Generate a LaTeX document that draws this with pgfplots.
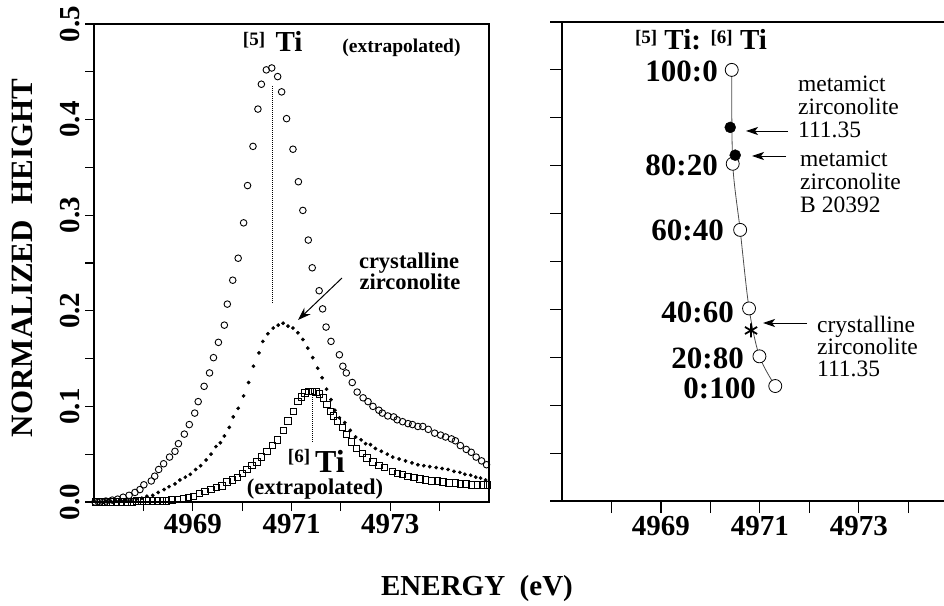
\documentclass[border=0pt]{standalone}
\usepackage{fontspec}
\setmainfont{Liberation Serif}
\usepackage{pgfplots}
\pgfplotsset{compat=1.18}
\usetikzlibrary{arrows.meta}
\newcommand\fs[1]{\fontsize{#1}{#1}\selectfont}
\begin{document}
\begin{tikzpicture}[x=1pt,y=1pt]
\useasboundingbox (0,0) rectangle (944,605);
\begin{axis}[
 at={(94pt,103pt)}, anchor=south west, scale only axis, width=395pt, height=478pt,
 xmin=4967, xmax=4975, ymin=0, ymax=0.5,
 xtick={4968,4969,4970,4971,4972,4973,4974}, xticklabels={,4969,,4971,,4973,},
 ytick={0,0.05,0.1,0.15,0.2,0.25,0.3,0.35,0.4,0.45,0.5},
 yticklabels={0.0,,0.1,,0.2,,0.3,,0.4,,0.5},
 tick pos=left, tick align=outside, major tick length=9pt,
 axis line style={line width=1.2pt}, tick style={line width=1.1pt, black},
 ticklabel style={font=\fs{29}\bfseries},
 yticklabel style={rotate=90, anchor=south, inner sep=5pt},
 clip=false,
]
\addplot[densely dotted, line width=1pt] coordinates {(4970.61,0.435) (4970.61,0.208)};
\addplot[densely dotted, line width=1pt] coordinates {(4971.43,0.114) (4971.43,0.063)};
% [6]Ti squares
\addplot[only marks, mark=square, mark size=3.2pt, mark options={line width=0.8pt, fill=white}] coordinates {
(4967.04,0.000) (4967.14,0.000) (4967.24,0.000) (4967.34,0.000) (4967.45,0.000) (4967.55,0.000)
(4967.67,0.000) (4967.77,0.000) (4967.87,0.001) (4967.97,0.001) (4968.07,0.001) (4968.18,0.001)
(4968.28,0.001) (4968.38,0.001) (4968.47,0.001) (4968.58,0.002) (4968.69,0.003) (4968.81,0.004)
(4968.91,0.005) (4969.01,0.006) (4969.14,0.009) (4969.25,0.011) (4969.37,0.013) (4969.48,0.015)
(4969.59,0.017) (4969.69,0.021) (4969.80,0.023) (4969.90,0.026) (4970.00,0.030) (4970.10,0.034)
(4970.20,0.038) (4970.30,0.042) (4970.39,0.047) (4970.50,0.053) (4970.61,0.059) (4970.71,0.065)
(4970.83,0.075) (4970.93,0.085) (4971.04,0.095) (4971.13,0.105) (4971.20,0.110) (4971.27,0.114)
(4971.34,0.116) (4971.42,0.116) (4971.50,0.115) (4971.57,0.113) (4971.64,0.109) (4971.72,0.102)
(4971.79,0.095) (4971.85,0.090) (4971.93,0.085) (4972.03,0.078) (4972.11,0.071) (4972.21,0.063)
(4972.31,0.056) (4972.43,0.051) (4972.53,0.046) (4972.65,0.042) (4972.77,0.038) (4972.88,0.036)
(4973.04,0.032) (4973.14,0.030) (4973.24,0.029) (4973.36,0.027) (4973.48,0.026) (4973.60,0.024)
(4973.71,0.023) (4973.84,0.022) (4973.95,0.022) (4974.07,0.021) (4974.19,0.020) (4974.32,0.020)
(4974.42,0.019) (4974.53,0.019) (4974.64,0.018) (4974.76,0.018) (4974.88,0.018) (4974.97,0.018)};
% crystalline zirconolite dots
\addplot[only marks, mark=*, mark size=1.7pt] coordinates {
(4967.04,0.000) (4967.14,0.000) (4967.24,0.001) (4967.34,0.001) (4967.45,0.001) (4967.55,0.001)
(4967.65,0.002) (4967.75,0.002) (4967.86,0.003) (4967.97,0.004) (4968.07,0.006) (4968.19,0.007)
(4968.30,0.010) (4968.42,0.013) (4968.52,0.016) (4968.64,0.019) (4968.74,0.023) (4968.85,0.026)
(4968.95,0.029) (4969.06,0.034) (4969.16,0.038) (4969.27,0.044) (4969.37,0.050) (4969.47,0.058)
(4969.56,0.062) (4969.64,0.069) (4969.74,0.078) (4969.82,0.089) (4969.92,0.098) (4970.03,0.111)
(4970.13,0.125) (4970.23,0.142) (4970.34,0.156) (4970.42,0.168) (4970.52,0.176) (4970.63,0.182)
(4970.73,0.185) (4970.83,0.187) (4970.93,0.184) (4971.03,0.182) (4971.13,0.177) (4971.23,0.170)
(4971.33,0.161) (4971.43,0.151) (4971.53,0.140) (4971.62,0.130) (4971.71,0.118) (4971.80,0.107)
(4971.88,0.096) (4971.97,0.088) (4972.08,0.083) (4972.19,0.075) (4972.30,0.068) (4972.41,0.065)
(4972.50,0.061) (4972.60,0.060) (4972.70,0.056) (4972.82,0.053) (4972.94,0.050) (4973.05,0.047)
(4973.18,0.045) (4973.31,0.043) (4973.44,0.041) (4973.56,0.039) (4973.68,0.038) (4973.80,0.037)
(4973.93,0.036) (4974.05,0.035) (4974.17,0.034) (4974.29,0.032) (4974.41,0.031) (4974.51,0.029)
(4974.63,0.028) (4974.73,0.026) (4974.83,0.025) (4974.93,0.023)};
% [5]Ti open circles
\addplot[only marks, mark=o, mark size=3.3pt, mark options={line width=0.9pt}] coordinates {
(4967.02,0.000) (4967.12,0.000) (4967.24,0.001) (4967.37,0.002) (4967.48,0.003) (4967.59,0.005)
(4967.71,0.007) (4967.83,0.010) (4967.93,0.013) (4968.01,0.018) (4968.16,0.022) (4968.23,0.027)
(4968.31,0.034) (4968.41,0.040) (4968.53,0.047) (4968.64,0.053) (4968.71,0.061) (4968.83,0.071)
(4968.93,0.081) (4969.04,0.093) (4969.11,0.105) (4969.23,0.121) (4969.34,0.135) (4969.42,0.151)
(4969.52,0.167) (4969.64,0.185) (4969.70,0.207) (4969.81,0.232) (4969.92,0.255) (4970.03,0.292)
(4970.11,0.331) (4970.22,0.372) (4970.32,0.411) (4970.39,0.437) (4970.49,0.452) (4970.60,0.454)
(4970.72,0.445) (4970.80,0.429) (4970.90,0.401) (4971.03,0.369) (4971.14,0.335) (4971.23,0.305)
(4971.34,0.274) (4971.42,0.245) (4971.56,0.221) (4971.63,0.202) (4971.70,0.183) (4971.80,0.168)
(4971.97,0.154) (4972.04,0.142) (4972.11,0.135) (4972.23,0.125) (4972.33,0.115) (4972.45,0.109)
(4972.55,0.105) (4972.65,0.100) (4972.77,0.096) (4972.84,0.093) (4972.95,0.090) (4973.07,0.089)
(4973.14,0.086) (4973.25,0.084) (4973.36,0.082) (4973.45,0.081) (4973.56,0.079) (4973.66,0.079)
(4973.77,0.076) (4973.90,0.072) (4974.02,0.070) (4974.12,0.068) (4974.24,0.066) (4974.32,0.064)
(4974.42,0.059) (4974.54,0.055) (4974.64,0.052) (4974.74,0.047) (4974.85,0.043) (4974.95,0.039)};
\end{axis}

\begin{axis}[
 at={(562pt,104pt)}, anchor=south west, scale only axis, width=382pt, height=479pt,
 xmin=4967, xmax=4974.72, ymin=0, ymax=0.5,
 axis x line=box, axis y line=left, axis line style={-, line width=1.2pt},
 xtick={4968,4969,4970,4971,4972,4973,4974}, xticklabels={,4969,,4971,,4973,},
 ytick={0,0.05,0.1,0.15,0.2,0.25,0.3,0.35,0.4,0.45,0.5},
 yticklabels={},
 tick pos=left, tick align=outside, major tick length=12pt,
 tick style={line width=1.1pt, black},
 ticklabel style={font=\fs{29}\bfseries},
 clip=false,
]
\addplot[smooth, no marks, line width=0.8pt, black!70] coordinates {
(4970.43,0.450) (4970.45,0.352) (4970.60,0.283) (4970.78,0.201) (4970.99,0.151) (4971.31,0.120)};
\addplot[only marks, mark=*, mark size=6.5pt, mark options={fill=white, draw=black, line width=0.8pt}] coordinates {
(4970.43,0.450) (4970.45,0.352) (4970.60,0.283) (4970.78,0.201) (4970.99,0.151) (4971.31,0.120)};
\addplot[only marks, mark=*, mark size=5.5pt, black] coordinates {(4970.40,0.390) (4970.50,0.361)};
\addplot[only marks, mark=asterisk, mark size=7pt, mark options={line width=1.8pt}, black] coordinates {(4970.82,0.178)};
\end{axis}

% axis titles
\node[rotate=90, font=\fs{31}\bfseries] at (22,347) {NORMALIZED\ \ HEIGHT};
\node[font=\fs{29}\bfseries] at (477,16) {ENERGY\ \ (eV)};

% left panel annotations
\node[anchor=center, font=\fs{19}\bfseries, inner sep=0] at (254,565) {[5]};
\node[anchor=base, font=\fs{29}\bfseries, inner sep=0] at (289,553) {Ti};
\node[anchor=base, font=\fs{19.5}\bfseries, inner sep=0] at (401.5,552) {(extrapolated)};
\node[anchor=base, font=\fs{22.5}\bfseries, inner sep=0] at (409,336) {crystalline};
\node[anchor=base, font=\fs{22.5}\bfseries, inner sep=0] at (410,315) {zirconolite};
\draw[-{Stealth[length=13pt,width=9pt]}, line width=1pt] (342,327) -- (298,285);
\node[anchor=center, font=\fs{19}\bfseries, inner sep=0] at (299,148) {[6]};
\node[anchor=base, font=\fs{32}\bfseries, inner sep=0] at (330,133) {Ti};
\node[anchor=base, font=\fs{22.5}\bfseries, inner sep=0] at (315,111) {(extrapolated)};

% right panel annotations
\node[anchor=base, font=\fs{29}\bfseries, inner sep=0] at (701,555) {\raisebox{6pt}{\fs{19}[5]} Ti: \raisebox{6pt}{\fs{19}[6]} Ti};
\node[anchor=east, font=\fs{31}\bfseries, inner sep=0] at (718,534) {100:0};
\node[anchor=east, font=\fs{31}\bfseries, inner sep=0] at (718,440) {80:20};
\node[anchor=east, font=\fs{31}\bfseries, inner sep=0] at (724,375) {60:40};
\node[anchor=east, font=\fs{31}\bfseries, inner sep=0] at (734,293) {40:60};
\node[anchor=east, font=\fs{31}\bfseries, inner sep=0] at (744,247) {20:80};
\node[anchor=east, font=\fs{31}\bfseries, inner sep=0] at (756,217) {0:100};

\begin{scope}[every node/.style={anchor=base west, font=\fs{23.5}, inner sep=0}]
\node at (798,513) {metamict};
\node at (798,490) {zirconolite};
\node at (798,467) {111.35};
\node at (800,438) {metamict};
\node at (800,415) {zirconolite};
\node at (800,392) {B 20392};
\node at (817,272) {crystalline};
\node at (817,250) {zirconolite};
\node at (817,228) {111.35};
\end{scope}
\draw[-{Stealth[length=12pt,width=8pt,inset=3pt]}, line width=0.9pt] (788,474) -- (746,474);
\draw[-{Stealth[length=12pt,width=8pt,inset=3pt]}, line width=0.9pt] (786,449) -- (752,449);
\draw[-{Stealth[length=12pt,width=8pt,inset=3pt]}, line width=0.9pt] (807,282) -- (763,282);
\end{tikzpicture}
\end{document}
